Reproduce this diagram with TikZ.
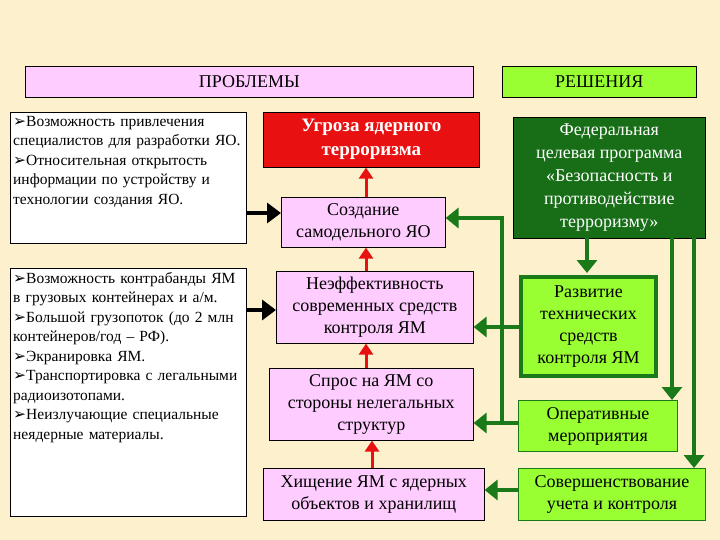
\documentclass[tikz,border=0pt]{standalone}
\usepackage{fontspec}
\setmainfont{Liberation Serif}
\newfontfamily\symf{DejaVu Sans}
\usetikzlibrary{arrows.meta}
\definecolor{bg}{HTML}{FCF1CC}
\definecolor{pinkb}{HTML}{FFCCFF}
\definecolor{lgreen}{HTML}{99FF33}
\definecolor{dgreen}{HTML}{1A7A1A}
\definecolor{redb}{HTML}{E81010}
\newcommand{\bul}{{\symf ➢}}
\tikzset{
 bx/.style={draw=black,line width=0.6pt,align=center,font=\fontsize{18}{22}\selectfont,inner sep=0pt},
 pk/.style={bx,fill=pinkb},
 lg/.style={bx,fill=lgreen,draw=dgreen,line width=1pt},
 lbox/.style={draw=black,fill=white,line width=0.6pt},
 redarr/.style={draw=redb,line width=3pt,-{Triangle[length=11pt,width=14pt]}},
 garr/.style={draw=dgreen,line width=4.5pt,-{Triangle[length=13pt,width=20pt]}},
 glin/.style={draw=dgreen,line width=4.5pt},
 barr/.style={draw=black,line width=4.5pt,-{Triangle[length=14pt,width=20pt]}},
 ltxt/.style={anchor=north west,align=left,font=\fontsize{15.5}{19.5}\selectfont,text width=230pt,inner sep=0pt}
}
\begin{document}
\begin{tikzpicture}[x=1pt,y=-1pt]
\fill[bg] (0,0) rectangle (720,540);
\useasboundingbox (0,0) rectangle (720,540);
\node[pk,minimum width=448pt,minimum height=31pt,anchor=north west,font=\fontsize{18}{20}\selectfont] (hp) at (25,66) {ПРОБЛЕМЫ};
\node[pk,fill=lgreen,draw=black,minimum width=194pt,minimum height=31pt,anchor=north west,font=\fontsize{18}{20}\selectfont] (hs) at (502,66) {РЕШЕНИЯ};
\node[lbox,minimum width=236pt,minimum height=131pt,anchor=north west] (l1) at (10,112) {};
\node[ltxt] (l1t) at (13,116) {\raggedright\bul Возможность привлечения специалистов для разработки ЯО.\\ \bul Относительная открытость информации по устройству и технологии создания ЯО.};
\node[lbox,minimum width=236pt,minimum height=248pt,anchor=north west] (l2) at (10,268) {};
\node[ltxt] (l2t) at (13,272) {\raggedright\bul Возможность контрабанды ЯМ в грузовых контейнерах и а/м.\\ \bul Большой грузопоток (до 2 млн контейнеров/год -- РФ).\\ \bul Экранировка ЯМ.\\ \bul Транспортировка с легальными радиоизотопами.\\ \bul Неизлучающие специальные неядерные материалы.};
\node[bx,fill=redb,text=white,minimum width=216pt,minimum height=55pt,anchor=north west,font=\bfseries\fontsize{19}{24}\selectfont] (t) at (263,112) {Угроза ядерного\\терроризма};
\node[pk,minimum width=164pt,minimum height=50pt,anchor=north west] (c) at (281,197) {Создание\\самодельного ЯО};
\node[pk,minimum width=197pt,minimum height=72pt,anchor=north west] (n) at (276,271) {Неэффективность\\современных средств\\контроля ЯМ};
\node[pk,minimum width=204pt,minimum height=72pt,anchor=north west] (s) at (269,368) {Спрос на ЯМ со\\стороны нелегальных\\структур};
\node[pk,minimum width=221pt,minimum height=52pt,anchor=north west] (h) at (263,468) {Хищение ЯМ с ядерных\\объектов и хранилищ};
\node[bx,fill=dgreen!90!black,text=white,draw=black,minimum width=192pt,minimum height=121pt,anchor=north west,font=\fontsize{18}{23}\selectfont] (f) at (513,117) {Федеральная\\целевая программа\\«Безопасность и\\противодействие\\терроризму»};
\node[lg,line width=4pt,minimum width=135pt,minimum height=99pt,anchor=north west] (r) at (519,275) {Развитие\\технических\\средств\\контроля ЯМ};
\node[lg,minimum width=159pt,minimum height=51pt,anchor=north west] (o) at (518,400) {Оперативные\\мероприятия};
\node[lg,minimum width=187pt,minimum height=52pt,anchor=north west] (sv) at (518,468) {Совершенствование\\учета и контроля};
% red arrows
\coordinate (rx) at (366,0);
\draw[redarr] (c.north -| rx) -- (t.south -| rx);
\draw[redarr] (n.north -| rx) -- (c.south -| rx);
\draw[redarr] (s.north -| rx) -- (n.south -| rx);
\draw[redarr] (h.north -| 372,0) -- (s.south -| 372,0);
% black arrows
\coordinate (b1) at (246,213);
\coordinate (b2) at (246,310);
\draw[barr] (b1) -- (b1 -| c.west);
\draw[barr] (b2) -- (b2 -| n.west);
% green
\coordinate (gv1) at (502,218);
\coordinate (gv2) at (502,423);
\draw[glin] (o.west |- gv2) -- (gv2) -- (gv1) -- ++(-10,0);
\draw[garr] (gv1) -- (gv1 -| c.east);
\draw[garr] (gv2) -- (gv2 -| s.east);
\draw[garr] (r.west |- 0,327) -- (n.east |- 0,327);
\draw[garr] (sv.west |- 0,490) -- (h.east |- 0,490);
\draw[garr] (587,238) -- (587,273);
\draw[garr] (672,238) -- (672,400);
\draw[garr] (694,238) -- (694,468);
\end{tikzpicture}
\end{document}
